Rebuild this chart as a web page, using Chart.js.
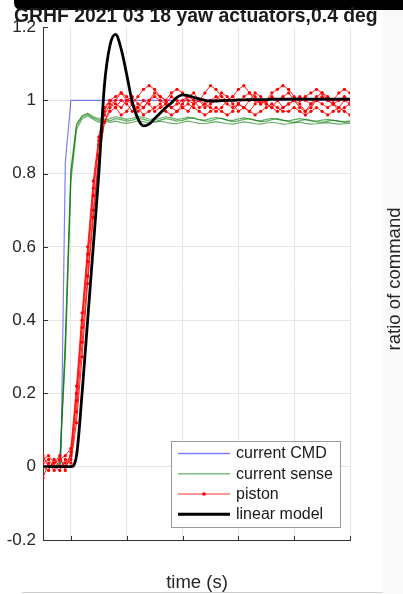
<!DOCTYPE html>
<html>
<head>
<meta charset="utf-8">
<style>html,body{margin:0;padding:0;background:#fff;}canvas{display:block;}</style>
<script src="https://cdn.jsdelivr.net/npm/chart.js@4.4.1/dist/chart.umd.min.js"></script>
</head>
<body>
<canvas id="c" width="403" height="594"></canvas>
<script>
const titleText = "GRHF 2021 03 18 yaw actuators,0.4 deg";
const xLabel = "time (s)";
const yLabel = "ratio of command";
const seriesNames = ["current CMD", "current sense", "piston", "linear model"];
const xTicks = [0, 0.5, 1, 1.5, 2, 2.5];
const yTicks = [-0.2, 0, 0.2, 0.4, 0.6, 0.8, 1, 1.2];

const time = [
 -0.25,-0.2,-0.15,-0.1,-0.05,0,0.05,0.1,0.15,0.2,
 0.25,0.3,0.35,0.4,0.45,0.5,0.55,0.6,0.65,0.7,
 0.75,0.8,0.85,0.9,0.95,1,1.05,1.1,1.15,1.2,
 1.25,1.3,1.35,1.4,1.45,1.5,1.55,1.6,1.65,1.7,
 1.75,1.8,1.85,1.9,1.95,2,2.05,2.1,2.15,2.2,
 2.25,2.3,2.35,2.4,2.45,2.5];

const cmdTime = [-0.25, -0.09, -0.05, 0, 2.5];
const cmd = [0, 0, 0.83, 1, 1];

const model = [
 0,0,0,0,0,0,0.03,0.2,0.4,0.6,
 0.8,1.04,1.15,1.18,1.14,1.07,0.995,0.95,0.93,0.935,
 0.95,0.965,0.98,0.993,1.008,1.015,1.013,1.008,1.004,1.0,
 0.998,0.998,0.999,1.0,1.0,1.001,1.001,1.002,1.002,1.002,
 1.002,1.003,1.003,1.003,1.003,1.003,1.003,1.003,1.003,1.003,
 1.003,1.003,1.003,1.003,1.003,1.003];

const sense1 = [
 0,0,0,0,0.33,0.8,0.93,0.955,0.962,0.952,0.945,0.948,
 0.944,0.95,0.947,0.943,0.946,0.951,0.948,0.944,0.942,0.946,
 0.95,0.947,0.943,0.945,0.95,0.952,0.947,0.943,0.944,0.949,
 0.951,0.946,0.942,0.944,0.948,0.95,0.946,0.942,0.943,0.947,
 0.95,0.946,0.942,0.94,0.944,0.948,0.945,0.941,0.94,0.943,
 0.946,0.943,0.94,0.941];
const sense2 = [
 0,0,0,0.01,0.3,0.78,0.92,0.95,0.958,0.948,0.94,0.944,
 0.94,0.943,0.939,0.937,0.94,0.944,0.941,0.938,0.94,0.943,
 0.94,0.937,0.936,0.94,0.943,0.94,0.937,0.936,0.939,0.942,
 0.939,0.936,0.935,0.938,0.941,0.939,0.936,0.935,0.938,0.94,
 0.938,0.935,0.936,0.939,0.94,0.937,0.935,0.936,0.938,0.939,
 0.937,0.935,0.936,0.937];
const sense3 = [
 0,0,0,0,0.35,0.81,0.935,0.958,0.965,0.955,0.95,0.946,
 0.95,0.955,0.952,0.948,0.951,0.956,0.953,0.949,0.947,0.951,
 0.955,0.952,0.948,0.95,0.954,0.951,0.947,0.946,0.95,0.953,
 0.95,0.946,0.945,0.949,0.952,0.949,0.945,0.944,0.948,0.951,
 0.948,0.945,0.944,0.947,0.95,0.947,0.944,0.943,0.946,0.948,
 0.945,0.943,0.942,0.944];

const piston1 = [
 0.02,0.03,0.01,0.02,0.03,0.05,0.22,0.42,0.6,0.78,0.9,0.98,
 1.0,1.01,1.02,1.0,0.99,1.01,1.03,1.04,1.03,1.01,
 1.0,1.02,1.03,1.02,1.0,0.99,1.0,1.02,1.04,1.03,
 1.01,1.0,1.01,1.03,1.04,1.02,1.01,0.99,1.0,1.02,
 1.03,1.04,1.03,1.01,1.0,1.01,1.02,1.03,1.02,1.01,
 1.0,1.02,1.03,1.02];
const piston2 = [
 0.0,-0.01,0.02,0.0,0.01,0.03,0.18,0.38,0.56,0.74,0.88,0.97,
 1.0,0.99,0.98,1.0,1.01,0.99,0.98,1.0,1.01,1.0,
 0.99,0.98,0.99,1.0,1.01,1.0,0.98,0.99,1.0,1.01,
 1.0,0.99,0.98,0.99,1.01,1.02,1.0,0.99,1.0,1.01,
 1.0,0.98,0.99,1.0,1.01,1.0,0.99,1.0,1.01,1.0,
 0.99,1.0,1.01,1.0];
const piston3 = [
 -0.03,0.01,-0.01,0.02,0.0,0.02,0.15,0.34,0.52,0.7,0.85,0.94,
 0.97,0.98,0.96,0.97,0.99,0.98,0.96,0.97,0.98,0.99,
 0.97,0.96,0.97,0.98,0.99,0.98,0.97,0.96,0.97,0.98,
 0.97,0.96,0.97,0.99,0.98,0.97,0.96,0.97,0.98,0.99,
 0.98,0.97,0.97,0.98,0.97,0.96,0.97,0.98,0.97,0.96,
 0.97,0.98,0.97,0.96];
const piston4 = [
 0.01,0.02,0.0,-0.01,0.02,0.01,0.12,0.3,0.5,0.68,0.84,0.94,
 0.98,1.0,1.02,1.01,0.99,0.97,0.98,1.0,1.02,1.01,
 1.0,0.98,0.97,0.99,1.01,1.02,1.0,0.98,0.99,1.0,
 1.02,1.01,0.99,0.97,0.98,1.0,1.02,1.01,0.99,0.98,
 1.0,1.01,1.02,1.0,0.98,0.97,0.99,1.01,1.02,1.0,
 0.99,0.98,1.0,0.99];
const piston5 = [
 0.03,0.0,0.01,0.03,-0.01,0.04,0.2,0.4,0.58,0.76,0.89,0.96,
 0.99,0.98,1.0,0.99,0.97,0.98,1.0,0.99,0.97,0.98,
 0.99,1.01,1.0,0.98,0.97,0.99,1.0,0.99,0.98,0.97,
 0.98,1.0,1.01,0.99,0.98,0.97,0.99,1.0,0.99,0.98,
 0.97,0.98,0.99,1.0,0.99,0.97,0.98,1.0,0.99,0.98,
 0.99,0.97,0.98,0.99];

const FONT = '"Liberation Sans", Arial, Helvetica, sans-serif';
const pts = (xs, ys) => ys.map((v, i) => ({x: xs[i], y: v}));

const blueC = 'rgba(40,40,255,0.6)';
const greenC = 'rgba(0,120,0,0.6)';
const redC = 'rgba(255,0,0,0.85)';

const datasets = [];
datasets.push({label: seriesNames[3], data: pts(time, model), borderColor: '#000', borderWidth: 2.8, pointRadius: 0, cubicInterpolationMode: 'monotone', order: 0});
[piston1, piston2, piston3, piston4, piston5].forEach(p => datasets.push({label: seriesNames[2], data: pts(time, p), borderColor: redC, borderWidth: 1, pointRadius: 1.6, pointBackgroundColor: '#ff0000', pointBorderWidth: 0, order: 1}));
[sense1, sense2, sense3].forEach(g => datasets.push({label: seriesNames[1], data: pts(time, g), borderColor: greenC, borderWidth: 1.2, pointRadius: 0, order: 2}));
datasets.push({label: seriesNames[0], data: pts(cmdTime, cmd), borderColor: blueC, borderWidth: 1.2, pointRadius: 0, order: 3});

const deco = {
  id: 'deco',
  beforeDraw(chart) {
    const ctx = chart.ctx;
    ctx.save();
    ctx.fillStyle = '#fff';
    ctx.fillRect(0, 0, chart.width, chart.height);
    ctx.fillStyle = '#f9f9f9';
    ctx.fillRect(383, 10, 20, 584);
    ctx.fillStyle = '#000';
    ctx.beginPath();
    if (ctx.roundRect) ctx.roundRect(14, -8, 400, 18, 7); else ctx.rect(14, -8, 400, 18);
    ctx.fill();
    ctx.restore();
  },
  afterDraw(chart) {
    const ctx = chart.ctx;
    const xs = chart.scales.x, ys = chart.scales.y;
    const a = chart.chartArea;
    ctx.save();
    ctx.strokeStyle = '#333';
    ctx.lineWidth = 1;
    ctx.beginPath();
    yTicks.forEach(v => { const y = Math.round(ys.getPixelForValue(v)) + 0.5; ctx.moveTo(a.left, y); ctx.lineTo(a.left + 5, y); });
    xTicks.forEach(v => { const x = Math.round(xs.getPixelForValue(v)) + 0.5; ctx.moveTo(x, a.bottom); ctx.lineTo(x, a.bottom - 4); });
    ctx.stroke();
    let size = 19.4;
    ctx.font = 'bold ' + size + 'px ' + FONT;
    const w = ctx.measureText(titleText).width;
    size = size * 364 / w;
    ctx.font = 'bold ' + size.toFixed(2) + 'px ' + FONT;
    ctx.fillStyle = '#1a1a1a';
    ctx.textAlign = 'left';
    ctx.textBaseline = 'alphabetic';
    ctx.fillText(titleText, 14, 21.5);
    ctx.font = '18.5px ' + FONT;
    ctx.fillStyle = '#262626';
    ctx.textAlign = 'center';
    ctx.textBaseline = 'middle';
    ctx.fillText(xLabel, 197, 583);
    ctx.save();
    ctx.translate(395, 279);
    ctx.rotate(-Math.PI / 2);
    ctx.fillText(yLabel, 0, 0);
    ctx.restore();
    ctx.strokeStyle = '#d0d0d0';
    ctx.lineWidth = 1;
    ctx.beginPath(); ctx.moveTo(22, 592.5); ctx.lineTo(383, 592.5); ctx.stroke();
    ctx.fillStyle = '#fff';
    ctx.strokeStyle = '#999';
    ctx.fillRect(171, 441, 169, 86);
    ctx.strokeRect(171.5, 441.5, 169, 86);
    const rows = [453.5, 473.8, 494, 514.3];
    const styles = [
      {c: '#7f7fff', w: 1.3},
      {c: '#7fbf7f', w: 1.5},
      {c: '#ff3030', w: 1, dot: true},
      {c: '#000', w: 3}
    ];
    ctx.font = '16px ' + FONT;
    ctx.textAlign = 'left';
    ctx.textBaseline = 'middle';
    seriesNames.forEach((n, i) => {
      const s = styles[i];
      ctx.strokeStyle = s.c; ctx.lineWidth = s.w;
      ctx.beginPath(); ctx.moveTo(178, rows[i]); ctx.lineTo(230, rows[i]); ctx.stroke();
      if (s.dot) { ctx.fillStyle = '#ff0000'; ctx.beginPath(); ctx.arc(204, rows[i], 1.8, 0, Math.PI * 2); ctx.fill(); }
      ctx.fillStyle = '#1a1a1a';
      ctx.fillText(n, 236, rows[i] + 0.5);
    });
    ctx.restore();
  }
};

new Chart(document.getElementById('c'), {
  type: 'line',
  data: {datasets},
  options: {
    responsive: false,
    devicePixelRatio: 1,
    animation: false,
    layout: {padding: {left: 0, right: 53, top: 27, bottom: 54}},
    plugins: {legend: {display: false}, title: {display: false}, tooltip: {enabled: false}},
    scales: {
      x: {
        type: 'linear', min: -0.25, max: 2.5,
        afterBuildTicks: s => { s.ticks = xTicks.map(v => ({value: v})); },
        ticks: {display: false},
        grid: {color: '#e6e6e6', drawTicks: false},
        border: {display: true, color: '#333'},
        afterFit: s => { s.height = 0; }
      },
      y: {
        type: 'linear', min: -0.2, max: 1.2,
        afterBuildTicks: s => { s.ticks = yTicks.map(v => ({value: v})); },
        ticks: {font: {family: FONT, size: 17}, color: '#262626', padding: 7, callback: v => String(Math.round(v * 10) / 10)},
        grid: {color: c => (c.tick && c.tick.value > 1.1) ? 'rgba(0,0,0,0)' : '#e6e6e6', drawTicks: false},
        border: {display: true, color: '#333'},
        afterFit: s => { s.width = 43; }
      }
    }
  },
  plugins: [deco]
});
</script>
</body>
</html>
